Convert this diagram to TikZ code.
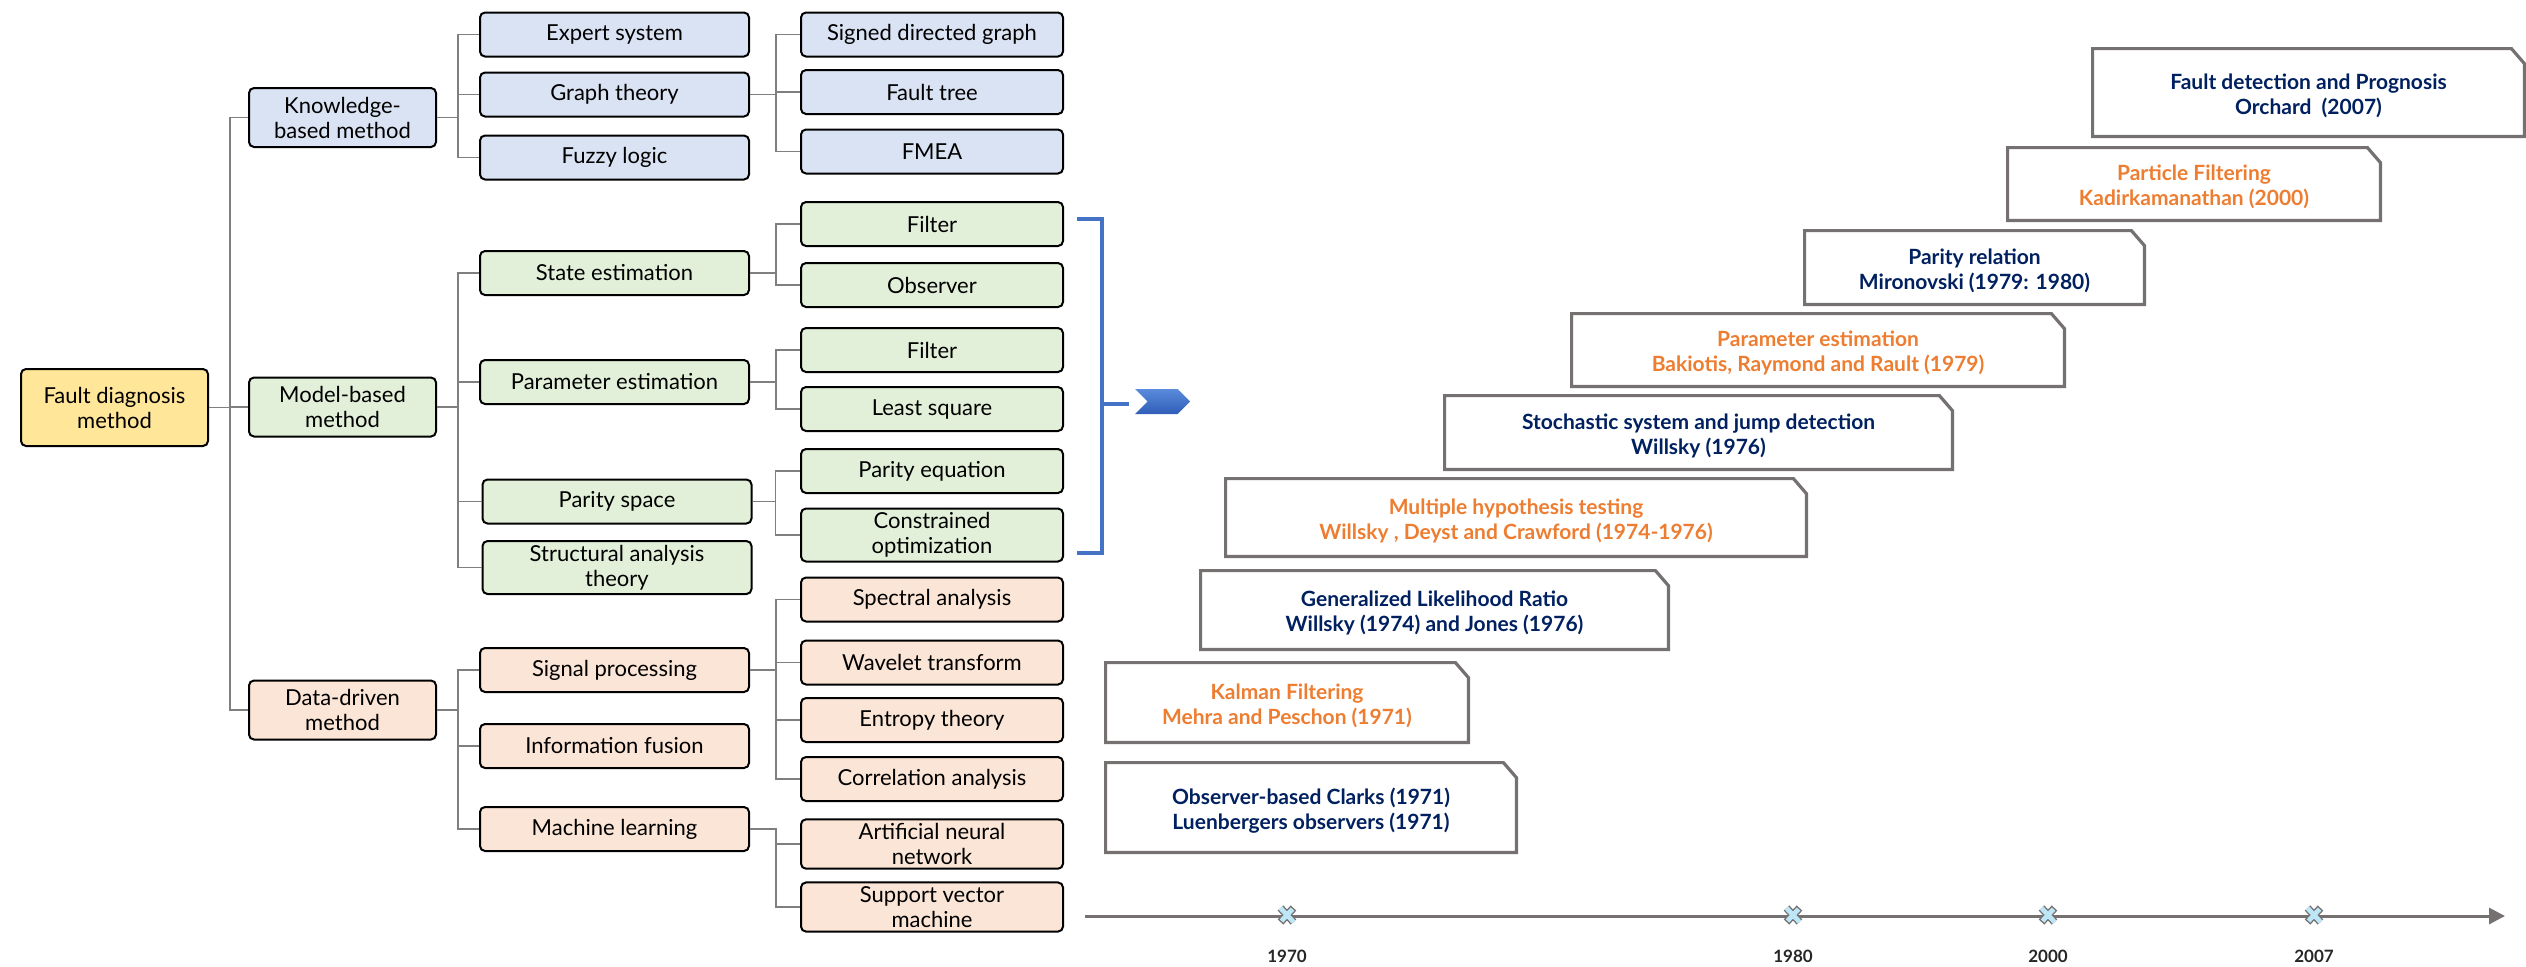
\documentclass[tikz,border=0pt]{standalone}
\usepackage{fontspec}
\setmainfont{Lato}
\usetikzlibrary{arrows.meta, shapes.symbols, positioning, calc}
\definecolor{rootfill}{HTML}{FFE699}
\definecolor{kbfill}{HTML}{DAE3F3}
\definecolor{mbfill}{HTML}{E2F0D9}
\definecolor{dbfill}{HTML}{FBE5D6}
\definecolor{linkgray}{HTML}{7F7F7F}
\definecolor{framegray}{HTML}{767171}
\definecolor{navytext}{HTML}{002060}
\definecolor{orangetext}{HTML}{ED7D31}
\definecolor{bracketblue}{HTML}{4472C4}
\definecolor{chevtop}{HTML}{5B8BDB}
\definecolor{chevbot}{HTML}{2F5DB8}
\definecolor{markfill}{HTML}{BDE7F7}
\definecolor{yeargray}{HTML}{262626}

\begin{document}
\begin{tikzpicture}
    [x=0.5pt, y=-0.5pt,
    method/.style={rectangle, rounded corners=2.5pt, draw=black, line width=1pt,
        align=center, inner sep=2pt, font=\fontsize{11}{12.5}\selectfont},
    lvltwo/.style={method, minimum width=93.5pt, minimum height=29.5pt},
    lvlthree/.style={method, minimum width=134.5pt, minimum height=22pt},
    lvlfour/.style={method, minimum width=131pt, minimum height=22pt},
    kb/.style={fill=kbfill}, mb/.style={fill=mbfill}, db/.style={fill=dbfill},
    link/.style={draw=linkgray, line width=0.75pt},
    milestone/.style={rectangle, inner sep=0pt},
    mstext/.style={align=center, inner sep=0pt, yshift=-1.5pt,
        font=\fontsize{10.5}{12.5}\selectfont\bfseries},
    msframe/.style={draw=framegray, line width=1.6pt, line join=miter},
    navy/.style={mstext, text=navytext}, orng/.style={mstext, text=orangetext},
    bracket/.style={draw=bracketblue, line width=1.6pt},
    yearlbl/.style={font=\fontsize{8.5}{10}\selectfont\bfseries, text=yeargray, inner sep=0pt}]

    \useasboundingbox (0,0) rectangle (2526,966);

    % tree of methods
    \node[method, fill=rootfill, minimum width=93.5pt, minimum height=38.5pt] (root) at (114.5,407.5) {Fault diagnosis\\method};

    \node[lvltwo, kb] (know) at (342.5,117.5) {Knowledge-\\based method};
    \node[lvltwo, mb] (model) at (342.5,407) {Model-based\\method};
    \node[lvltwo, db] (data) at (342.5,710) {Data-driven\\method};

    \node[lvlthree, kb] (expert) at (614.5,34.5) {Expert system};
    \node[lvlthree, kb] (graph) at (614.5,94.5) {Graph theory};
    \node[lvlthree, kb] (fuzzy) at (614.5,157.5) {Fuzzy logic};
    \node[lvlthree, mb] (state) at (614.5,273) {State estimation};
    \node[lvlthree, mb] (param) at (614.5,382) {Parameter estimation};
    \node[lvlthree, mb] (parity) at (617,501.5) {Parity space};
    \node[lvlthree, mb] (struct) at (617,567.5) {Structural analysis\\theory};
    \node[lvlthree, db] (signal) at (614.5,670) {Signal processing};
    \node[lvlthree, db] (info) at (614.5,746) {Information fusion};
    \node[lvlthree, db] (machine) at (614.5,829) {Machine learning};

    \node[lvlfour, kb] (sdg) at (932,34.5) {Signed directed graph};
    \node[lvlfour, kb] (ftree) at (932,92) {Fault tree};
    \node[lvlfour, kb] (fmea) at (932,151.5) {FMEA};
    \node[lvlfour, mb] (filtA) at (932,224) {Filter};
    \node[lvlfour, mb] (obs) at (932,285) {Observer};
    \node[lvlfour, mb] (filtB) at (932,350) {Filter};
    \node[lvlfour, mb] (lsq) at (932,409) {Least square};
    \node[lvlfour, mb] (pareq) at (932,471) {Parity equation};
    \node[lvlfour, mb] (copt) at (932,535) {Constrained\\optimization};
    \node[lvlfour, db] (spec) at (932,599.5) {Spectral analysis};
    \node[lvlfour, db] (wave) at (932,662.5) {Wavelet transform};
    \node[lvlfour, db] (entr) at (932,720) {Entropy theory};
    \node[lvlfour, db] (corr) at (932,779) {Correlation analysis};
    \node[lvlfour, db] (ann) at (932,844) {Artificial neural\\network};
    \node[lvlfour, db] (svm) at (932,907) {Support vector\\machine};

    \foreach \c in {know,model,data} \draw[link] (root.east) -- +(21,0) |- (\c);
    \foreach \c in {expert,graph,fuzzy} \draw[link] (know.east) -- +(21,0) |- (\c);
    \foreach \c in {state,param,parity,struct} \draw[link] (model.east) -- +(21,0) |- (\c);
    \foreach \c in {signal,info,machine} \draw[link] (data.east) -- +(21,0) |- (\c);
    \foreach \c in {sdg,ftree,fmea} \draw[link] (graph.east) -- +(26,0) |- (\c);
    \foreach \c in {filtA,obs} \draw[link] (state.east) -- +(26,0) |- (\c);
    \foreach \c in {filtB,lsq} \draw[link] (param.east) -- +(26,0) |- (\c);
    \foreach \c in {pareq,copt} \draw[link] (parity.east) -- +(23,0) |- (\c);
    \foreach \c in {spec,wave,entr,corr} \draw[link] (signal.east) -- +(26,0) |- (\c);
    \foreach \c in {ann,svm} \draw[link] (machine.east) -- +(26,0) |- (\c);

    % bracket and chevron
    \coordinate (brt) at (1077,219);
    \coordinate (brb) at (1077,553);
    \coordinate (brm) at (1102,404);
    \coordinate (brtick) at (1129,404);
    \draw[bracket] (brt) -| (brm) |- (brb);
    \draw[bracket] (brm) -- (brtick);
    \node[signal, signal to=east, signal from=west, draw=none, inner sep=0pt,
        minimum width=27.5pt, minimum height=12.5pt, top color=chevtop, bottom color=chevbot] (chev) at (1162.5,401.5) {};

    % milestones
    \node[milestone, minimum width=215.5pt, minimum height=43.5pt] (fdp) at (2308.5,92.5) {};
    \node[milestone, minimum width=186pt, minimum height=36pt] (pf) at (2194,184) {};
    \node[milestone, minimum width=169.5pt, minimum height=36.5pt] (pr) at (1974.5,267.5) {};
    \node[milestone, minimum width=246pt, minimum height=36pt] (pe) at (1818,350) {};
    \node[milestone, minimum width=253.5pt, minimum height=36.5pt] (ss) at (1698.5,432.5) {};
    \node[milestone, minimum width=290pt, minimum height=38.5pt] (mh) at (1516,517.5) {};
    \node[milestone, minimum width=233.5pt, minimum height=39pt] (glr) at (1434.5,610) {};
    \node[milestone, minimum width=181pt, minimum height=39.5pt] (kf) at (1287,702.5) {};
    \node[milestone, minimum width=205pt, minimum height=44.5pt] (ob) at (1311,807.5) {};

    \foreach \n in {fdp,pf,pr,pe,ss,mh,glr,kf,ob}
        \draw[msframe] (\n.south west) -- (\n.north west) -- ($(\n.north east)+(-13,0)$)
            -- ($(\n.north east)+(0,15)$) -- (\n.south east) -- cycle;

    \node[navy] (fdptxt) at (fdp) {Fault detection and Prognosis\\Orchard\ \ (2007)};
    \node[orng] (pftxt) at (pf) {Particle Filtering\\Kadirkamanathan (2000)};
    \node[navy] (prtxt) at (pr) {Parity relation\\Mironovski (1979: 1980)};
    \node[orng] (petxt) at (pe) {Parameter estimation\\Bakiotis, Raymond and Rault (1979)};
    \node[navy] (sstxt) at (ss) {Stochastic system and jump detection\\Willsky (1976)};
    \node[orng] (mhtxt) at (mh) {Multiple hypothesis testing\\Willsky , Deyst and Crawford (1974-1976)};
    \node[navy] (glrtxt) at (glr) {Generalized Likelihood Ratio\\Willsky (1974) and Jones (1976)};
    \node[orng] (kftxt) at (kf) {Kalman Filtering\\Mehra and Peschon (1971)};
    \node[navy] (obtxt) at (ob) {Observer-based Clarks (1971)\\Luenbergers observers (1971)};

    % time axis
    \coordinate (tstart) at (1085,916);
    \coordinate (tend) at (2505,916);
    \draw[draw=framegray, line width=1.5pt, -{Triangle[length=8pt,width=8pt]}] (tstart) -- (tend);
    \foreach \yr/\x in {1970/1287,1980/1793,2000/2048,2007/2314} {
        \coordinate (m\yr) at (\x,915);
        \begin{scope}[shift={(m\yr)}]
            \draw[draw=framegray, line width=3.8pt] (-6.5,-7) -- (6.5,7) (-6.5,7) -- (6.5,-7);
            \draw[draw=markfill, line width=2.4pt, shorten <=0.7pt, shorten >=0.7pt] (-6.5,-7) -- (6.5,7) (-6.5,7) -- (6.5,-7);
        \end{scope}
        \node[yearlbl, below=17.5pt of m\yr] (y\yr) {\yr};
    }

\end{tikzpicture}
\end{document}
